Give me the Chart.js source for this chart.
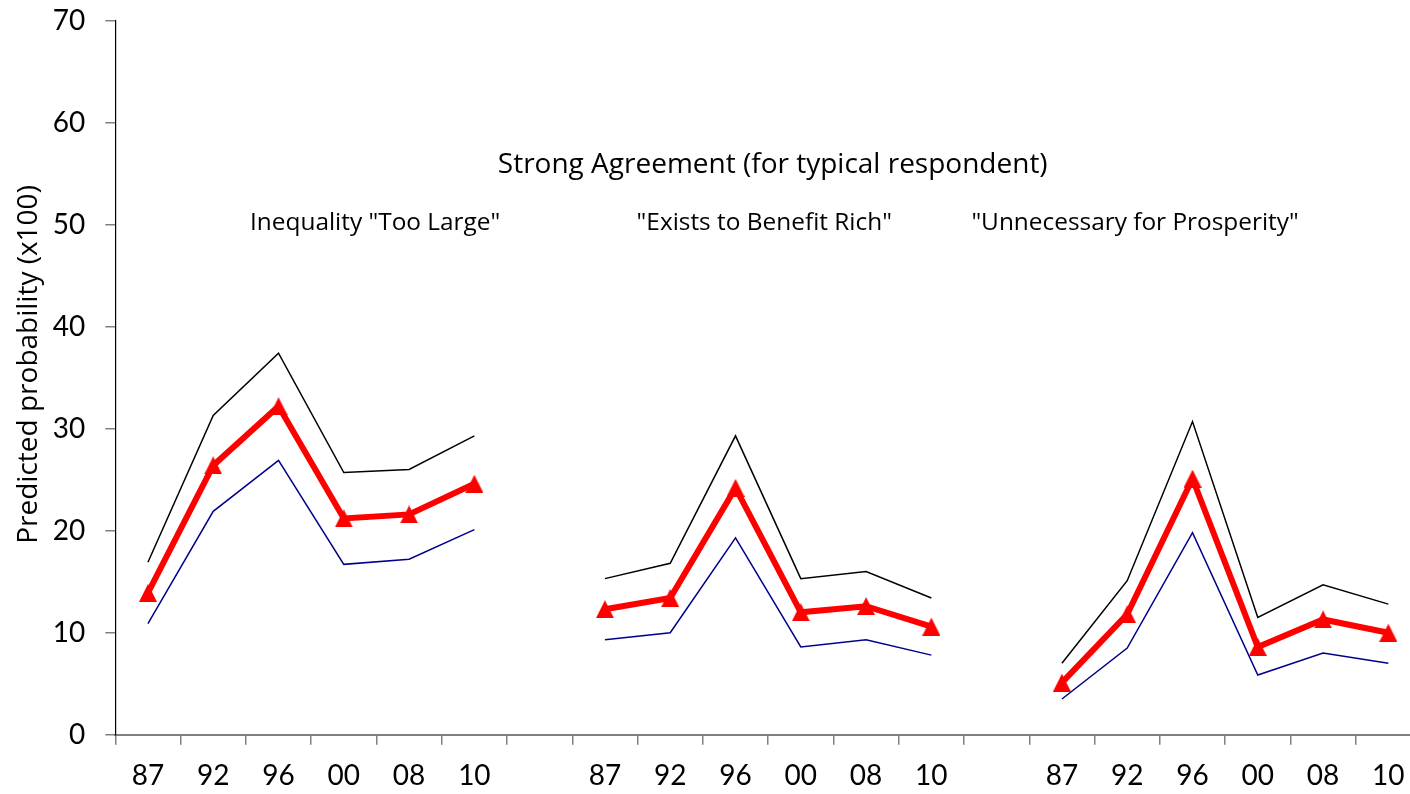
<!DOCTYPE html>
<html>
<head>
<meta charset="utf-8">
<script src="https://cdn.jsdelivr.net/npm/chart.js@4/dist/chart.umd.min.js"></script>
<style>
  html, body { margin: 0; padding: 0; overflow: hidden; background: #ffffff; }
  canvas { display: block; }
</style>
</head>
<body>
<canvas id="chart" width="1421" height="794"></canvas>
<script>
// Survey years, repeated for each of the three questions (blank slot between panels)
const years = ['87', '92', '96', '00', '08', '10'];
const categories = [...years, '', ...years, '', ...years];

// Predicted probability of strong agreement (x100) and its confidence band
const estimate   = [13.9, 26.4, 32.2, 21.2, 21.6, 24.6, null, 12.3, 13.4, 24.2, 12.0, 12.6, 10.6, null, 5.1, 11.8, 25.1, 8.6, 11.3, 10.0];
const upperBound = [16.9, 31.3, 37.4, 25.7, 26.0, 29.3, null, 15.3, 16.8, 29.3, 15.3, 16.0, 13.4, null, 7.0, 15.1, 30.7, 11.5, 14.7, 12.8];
const lowerBound = [10.9, 21.9, 26.9, 16.7, 17.2, 20.1, null,  9.3, 10.0, 19.3,  8.6,  9.3,  7.8, null, 3.5,  8.5, 19.8, 5.85, 8.0,  7.0];

const yTicks = [0, 10, 20, 30, 40, 50, 60, 70];

const mainTitle = 'Strong Agreement (for typical respondent)';
const panelTitles = ['Inequality "Too Large"', '"Exists to Benefit Rich"', '"Unnecessary for Prosperity"'];
const yTitle = 'Predicted probability (x100)';

const TEXT_FONT = '"Open Sans", "Noto Sans", sans-serif';
const TICK_FONT = 'Lato, "Open Sans", sans-serif';

// Filled triangle marker centred on its point
function triangleMarker(size, color) {
  const c = document.createElement('canvas');
  c.width = size; c.height = size;
  const g = c.getContext('2d');
  g.fillStyle = color;
  g.beginPath();
  g.moveTo(size / 2, 0);
  g.lineTo(size, size);
  g.lineTo(0, size);
  g.closePath();
  g.fill();
  return c;
}

// Titles placed in data coordinates (category index, value)
const titlePlugin = {
  id: 'panelTitles',
  afterDraw(chart) {
    const { ctx, scales: { x, y } } = chart;
    ctx.save();
    ctx.fillStyle = '#000000';
    ctx.textAlign = 'center';
    ctx.textBaseline = 'middle';

    ctx.font = '28px ' + TEXT_FONT;
    ctx.fillText(mainTitle, x.getPixelForValue(9.57), y.getPixelForValue(55.85));

    ctx.font = '24.4px ' + TEXT_FONT;
    const spots = [3.48, 9.44, 15.12];
    panelTitles.forEach((t, i) => {
      ctx.fillText(t, x.getPixelForValue(spots[i]), y.getPixelForValue(50.15));
    });

    ctx.font = '28px ' + TEXT_FONT;
    ctx.translate(29, y.getPixelForValue(36.3));
    ctx.rotate(-Math.PI / 2);
    ctx.fillText(yTitle, 0, 0);
    ctx.restore();
  }
};

new Chart(document.getElementById('chart'), {
  type: 'line',
  data: {
    labels: categories,
    datasets: [
      {
        label: 'Estimate',
        data: estimate,
        borderColor: '#ff0000',
        backgroundColor: '#ff0000',
        borderWidth: 6,
        pointStyle: triangleMarker(18, '#ff0000'),
        pointRadius: 9,
        tension: 0,
        spanGaps: false
      },
      {
        label: 'Upper',
        data: upperBound,
        borderColor: '#000000',
        borderWidth: 1.5,
        pointRadius: 0,
        tension: 0,
        spanGaps: false
      },
      {
        label: 'Lower',
        data: lowerBound,
        borderColor: '#00008b',
        borderWidth: 1.5,
        pointRadius: 0,
        tension: 0,
        spanGaps: false
      }
    ]
  },
  options: {
    responsive: false,
    animation: false,
    events: [],
    layout: { autoPadding: false, padding: { top: 20.7, right: 0, left: 0, bottom: 0 } },
    plugins: {
      legend: { display: false },
      tooltip: { enabled: false },
      title: { display: false }
    },
    scales: {
      x: {
        offset: true,
        grid: {
          offset: true,
          drawOnChartArea: false,
          drawTicks: true,
          tickLength: 10,
          tickColor: '#808080',
          lineWidth: 1.5
        },
        border: { color: '#808080', width: 2 },
        ticks: {
          color: '#000000',
          font: { family: TICK_FONT, size: 28 },
          padding: 14,
          maxRotation: 0,
          autoSkip: false
        },
        afterFit(scale) {
          scale.height = 59.3;
          scale.paddingLeft = 0;
          scale.paddingRight = 0;
        }
      },
      y: {
        min: 0,
        max: 70,
        afterBuildTicks(scale) { scale.ticks = yTicks.map(v => ({ value: v })); },
        grid: {
          drawOnChartArea: false,
          drawTicks: true,
          tickLength: 10,
          tickColor: '#808080',
          lineWidth: 1.5
        },
        border: { color: '#000000', width: 1.2 },
        ticks: {
          color: '#000000',
          font: { family: TICK_FONT, size: 28 },
          padding: 20
        },
        afterFit(scale) {
          scale.width = 115.3;
          scale.paddingTop = 0;
          scale.paddingBottom = 0;
        }
      }
    }
  },
  plugins: [titlePlugin]
});
</script>
</body>
</html>
